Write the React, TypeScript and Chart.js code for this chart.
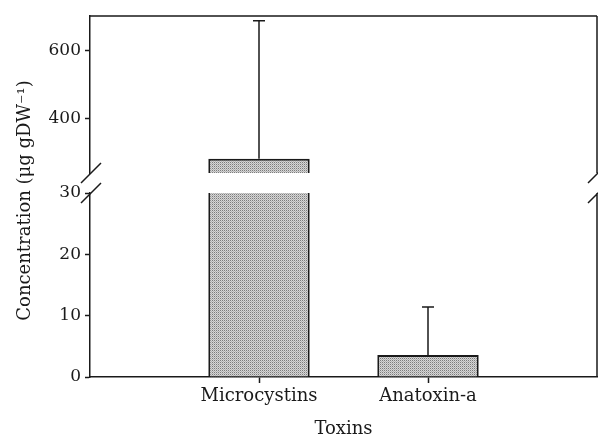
import React, { useEffect, useRef } from 'react';
import { Chart, registerables } from 'chart.js';

Chart.register(...registerables);

const categories = ['Microcystins', 'Anatoxin-a'];
const means = [282, 3.6];
const errors = [404, 7.8];
const topTicks = [400, 600];
const bottomTicks = [0, 10, 20, 30];
const topRange = [240, 700];
const bottomRange = [0, 30];
const xTitle = 'Toxins';
const yTitle = 'Concentration (μg gDW⁻¹)';

const INK = '#1a1a1a';
const FONT = '"DejaVu Serif", serif';

const labels = ['', ...categories, ''];
const bottomData = [null, ...means, null];
const topData = [null, ...means.map((v) => (v > topRange[0] ? v : null)), null];

const errorBarPlugin = {
  id: 'errorBars',
  afterDatasetsDraw(chart: any) {
    const { ctx } = chart;
    const x = chart.scales.x;
    const yT = chart.scales.yTop;
    const yB = chart.scales.yBottom;
    ctx.save();
    ctx.strokeStyle = INK;
    ctx.lineWidth = 1.5;
    categories.forEach((_, i) => {
      const px = x.getPixelForValue(i + 1);
      const lo = means[i];
      const hi = means[i] + errors[i];
      const s = lo > bottomRange[1] ? yT : yB;
      const p0 = s.getPixelForValue(lo);
      const p1 = s.getPixelForValue(hi);
      ctx.beginPath();
      ctx.moveTo(px, p0);
      ctx.lineTo(px, p1);
      ctx.moveTo(px - 6, p1);
      ctx.lineTo(px + 6, p1);
      ctx.stroke();
    });
    ctx.restore();
  },
};

const framePlugin = {
  id: 'frame',
  afterDraw(chart: any) {
    const { ctx } = chart;
    const x = chart.scales.x;
    const yT = chart.scales.yTop;
    const yB = chart.scales.yBottom;
    ctx.save();
    ctx.strokeStyle = INK;
    ctx.lineWidth = 1.5;
    ctx.beginPath();
    ctx.moveTo(x.left, yT.top);
    ctx.lineTo(x.right, yT.top);
    ctx.moveTo(x.right, yT.top);
    ctx.lineTo(x.right, yT.bottom);
    ctx.moveTo(x.right, yB.top);
    ctx.lineTo(x.right, yB.bottom);
    for (const px of [x.left, x.right]) {
      for (const py of [yT.bottom, yB.top]) {
        ctx.moveTo(px - 9, py + 10);
        ctx.lineTo(px + 11, py - 10);
      }
    }
    ctx.stroke();

    ctx.fillStyle = INK;
    ctx.font = '18px ' + FONT;
    ctx.textAlign = 'center';
    ctx.textBaseline = 'alphabetic';
    ctx.fillText(xTitle, (x.left + x.right) / 2, chart.height - 2);

    ctx.translate(30, (yT.top + yB.bottom) / 2 + 4);
    ctx.rotate(-Math.PI / 2);
    ctx.fillText(yTitle, 0, 0);
    ctx.restore();
  },
};

export default function App() {
  const ref = useRef<HTMLCanvasElement | null>(null);

  useEffect(() => {
    const canvas = ref.current;
    if (!canvas) return;
    const ctx = canvas.getContext('2d')!;

    const pc = document.createElement('canvas');
    pc.width = 2;
    pc.height = 2;
    const g = pc.getContext('2d')!;
    g.fillStyle = '#d6d6d6';
    g.fillRect(0, 0, 2, 2);
    g.fillStyle = '#7c7c7c';
    g.fillRect(0, 0, 1, 1);
    g.fillStyle = '#b2b2b2';
    g.fillRect(1, 1, 1, 1);
    const pattern = ctx.createPattern(pc, 'repeat') || '#b8b8b8';

    const barCommon = {
      backgroundColor: pattern,
      borderColor: INK,
      borderWidth: { top: 2, left: 2, right: 2, bottom: 0 },
      borderSkipped: 'start',
      grouped: false,
      barPercentage: 0.6,
      categoryPercentage: 1,
      clip: 0,
    };

    const yAxisCommon = (weight: number, stackWeight: number) => ({
      type: 'linear',
      position: 'left',
      stack: 'y',
      stackWeight,
      weight,
      stacked: false,
      afterFit: (s: any) => {
        s.width = 90;
      },
    });

    const tickFont = { family: FONT, size: 17 };

    const chart = new Chart(ctx, {
      type: 'bar',
      data: {
        labels,
        datasets: [
          { ...barCommon, data: bottomData, yAxisID: 'yBottom' } as any,
          { ...barCommon, data: topData, yAxisID: 'yTop' } as any,
        ],
      },
      plugins: [errorBarPlugin, framePlugin],
      options: {
        animation: false,
        responsive: true,
        maintainAspectRatio: false,
        layout: { padding: { top: 16, right: 1, left: 0, bottom: 0 } },
        plugins: { legend: { display: false }, tooltip: { enabled: false } },
        scales: {
          x: {
            type: 'category',
            offset: false,
            afterFit: (s: any) => {
              s.height = 59;
              s.paddingRight = 0;
              s.paddingLeft = 0;
            },
            grid: {
              offset: false,
              drawOnChartArea: false,
              tickLength: 6,
              tickWidth: 1.5,
              tickColor: (c: any) =>
                c.index === 0 || c.index === labels.length - 1 ? 'rgba(0,0,0,0)' : INK,
            },
            border: { display: true, color: INK, width: 1.5 },
            ticks: {
              color: INK,
              font: { family: FONT, size: 18 },
              padding: 3,
              autoSkip: false,
              maxRotation: 0,
            },
          },
          yTop: {
            ...yAxisCommon(2, 157),
            min: topRange[0],
            max: topRange[1],
            afterBuildTicks: (s: any) => {
              s.ticks = topTicks.map((v) => ({ value: v }));
            },
            grid: { drawOnChartArea: false, tickLength: 5, tickWidth: 1.5, tickColor: INK },
            border: { display: true, color: INK, width: 1.5 },
            ticks: { color: INK, font: tickFont, padding: 4 },
          },
          yGap: {
            ...yAxisCommon(1, 20),
            min: 0,
            max: 1,
            grid: { display: false, drawTicks: false },
            border: { display: false },
            ticks: { display: false },
          },
          yBottom: {
            ...yAxisCommon(0, 184),
            min: bottomRange[0],
            max: bottomRange[1],
            afterBuildTicks: (s: any) => {
              s.ticks = bottomTicks.map((v) => ({ value: v }));
            },
            grid: { drawOnChartArea: false, tickLength: 5, tickWidth: 1.5, tickColor: INK },
            border: { display: true, color: INK, width: 1.5 },
            ticks: { color: INK, font: tickFont, padding: 4 },
          },
        } as any,
      },
    } as any);

    return () => chart.destroy();
  }, []);

  return (
    <div style={{ position: 'fixed', left: 0, top: 0, width: 598, height: 436, background: '#fff' }}>
      <canvas ref={ref} />
    </div>
  );
}
